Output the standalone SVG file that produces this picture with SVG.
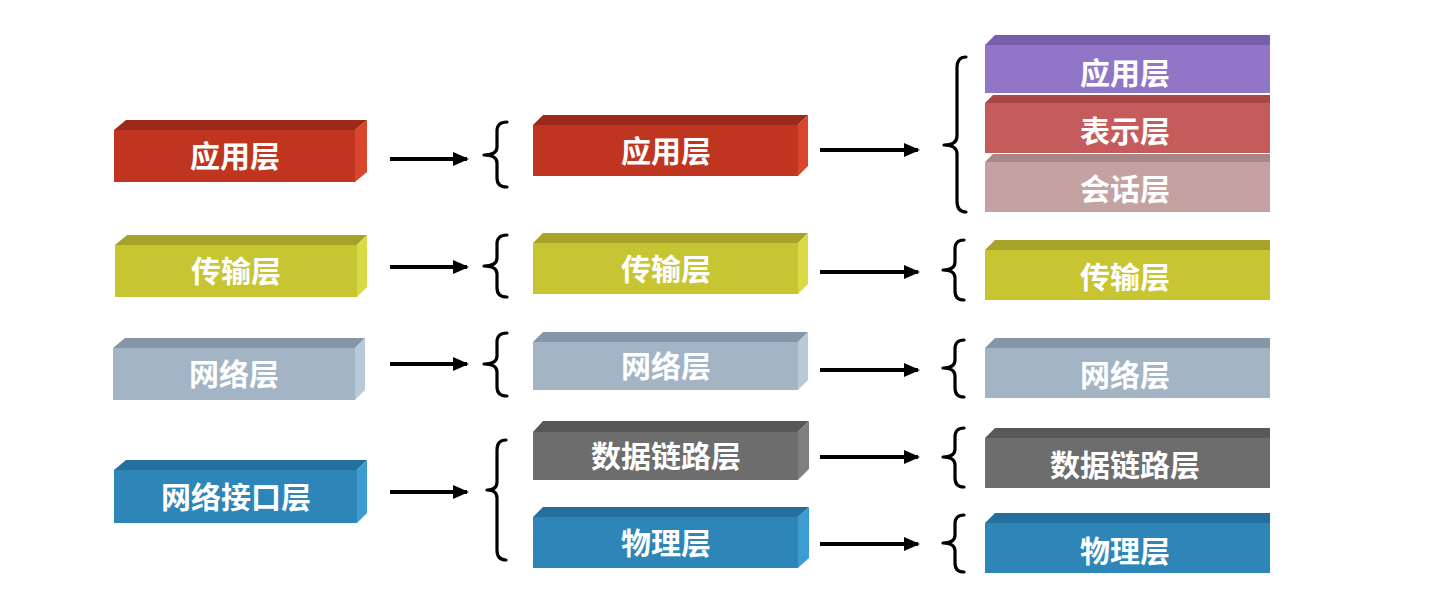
<svg xmlns="http://www.w3.org/2000/svg" width="1444" height="612" viewBox="0 0 1444 612">
<style>
.lbl{font-family:"Noto Sans CJK SC","Noto Sans",sans-serif;font-weight:bold;font-size:30px;fill:#ffffff;text-anchor:middle}
.red .f{fill:#BF3520}.red .t{fill:#9C2A19}.red .s{fill:#D9462B}
.yel .f{fill:#C8C532}.yel .t{fill:#A6A22A}.yel .s{fill:#DCD946}
.gb .f{fill:#A3B5C5}.gb .t{fill:#8496A7}.gb .s{fill:#B8C9D7}
.blu .f{fill:#2E86B8}.blu .t{fill:#256F9E}.blu .s{fill:#3D9CD1}
.dg .f{fill:#6D6D6D}.dg .t{fill:#585858}.dg .s{fill:#808080}
.pur .f{fill:#9176C8}.pur .t{fill:#775DAE}
.ros .f{fill:#C65B5B}.ros .t{fill:#A84646}
.pnk .f{fill:#C4A2A2}.pnk .t{fill:#A88787}
.brace{fill:none;stroke:#000;stroke-width:3.2;stroke-linecap:round;stroke-linejoin:round}
.arr{stroke:#000;stroke-width:4;marker-end:url(#ah)}
</style>
<defs>
<marker id="ah" markerWidth="16" markerHeight="14" refX="14" refY="7" orient="auto" markerUnits="userSpaceOnUse">
<path d="M0,0 L16,7 L0,14 Z" fill="#000"/>
</marker>
<clipPath id="cl"><rect x="0" y="0" width="1270" height="612"/></clipPath>
</defs>
<rect width="1444" height="612" fill="#ffffff"/>

<!-- Column 1 -->
<g id="c1-app" class="red">
<polygon class="t" points="114,130 126,120 367,120 355,130"/>
<polygon class="s" points="355,130 367,120 367,172 355,182"/>
<rect class="f" x="114" y="130" width="241" height="52"/>
<text class="lbl" x="235" y="167">应用层</text>
</g>
<g id="c1-trans" class="yel">
<polygon class="t" points="115,245 127,235 367,235 357,245"/>
<polygon class="s" points="357,245 367,235 367,287 357,297"/>
<rect class="f" x="115" y="245" width="242" height="52"/>
<text class="lbl" x="236" y="282">传输层</text>
</g>
<g id="c1-net" class="gb">
<polygon class="t" points="113,348 125,338 365,338 355,348"/>
<polygon class="s" points="355,348 365,338 365,390 355,400"/>
<rect class="f" x="113" y="348" width="242" height="52"/>
<text class="lbl" x="234" y="385">网络层</text>
</g>
<g id="c1-if" class="blu">
<polygon class="t" points="114,470 126,460 367,460 357,470"/>
<polygon class="s" points="357,470 367,460 367,513 357,523"/>
<rect class="f" x="114" y="470" width="243" height="53"/>
<text class="lbl" x="236" y="508">网络接口层</text>
</g>

<!-- Column 2 -->
<g id="c2-app" class="red">
<polygon class="t" points="533,125 543,115 808,115 798,125"/>
<polygon class="s" points="798,125 808,115 808,166 798,176"/>
<rect class="f" x="533" y="125" width="265" height="51"/>
<text class="lbl" x="666" y="162">应用层</text>
</g>
<g id="c2-trans" class="yel">
<polygon class="t" points="533,243 543,233 808,233 798,243"/>
<polygon class="s" points="798,243 808,233 808,284 798,294"/>
<rect class="f" x="533" y="243" width="265" height="51"/>
<text class="lbl" x="666" y="280">传输层</text>
</g>
<g id="c2-net" class="gb">
<polygon class="t" points="533,342 543,332 808,332 798,342"/>
<polygon class="s" points="798,342 808,332 808,380 798,390"/>
<rect class="f" x="533" y="342" width="265" height="48"/>
<text class="lbl" x="666" y="377">网络层</text>
</g>
<g id="c2-dl" class="dg">
<polygon class="t" points="533,432 543,421 809,421 798,432"/>
<polygon class="s" points="798,432 809,421 809,469 798,480"/>
<rect class="f" x="533" y="432" width="265" height="48"/>
<text class="lbl" x="666" y="467">数据链路层</text>
</g>
<g id="c2-phy" class="blu">
<polygon class="t" points="533,517 543,507 809,507 798,517"/>
<polygon class="s" points="798,517 809,507 809,558 798,568"/>
<rect class="f" x="533" y="517" width="265" height="51"/>
<text class="lbl" x="666" y="554">物理层</text>
</g>

<!-- Column 3 -->
<g clip-path="url(#cl)">
<g id="c3-app" class="pur">
<polygon class="t" points="985,45 995,35 1280,35 1280,45"/>
<rect class="f" x="985" y="45" width="295" height="48"/>
<text class="lbl" x="1125" y="84">应用层</text>
</g>
<g id="c3-pres" class="ros">
<polygon class="t" points="985,103 993,95 1280,95 1280,103"/>
<rect class="f" x="985" y="103" width="295" height="50"/>
<text class="lbl" x="1125" y="142">表示层</text>
</g>
<g id="c3-sess" class="pnk">
<polygon class="t" points="985,162 993,154 1280,154 1280,162"/>
<rect class="f" x="985" y="162" width="295" height="50"/>
<text class="lbl" x="1125" y="200">会话层</text>
</g>
<g id="c3-trans" class="yel">
<polygon class="t" points="985,250 995,240 1280,240 1280,250"/>
<rect class="f" x="985" y="250" width="295" height="50"/>
<text class="lbl" x="1125" y="288">传输层</text>
</g>
<g id="c3-net" class="gb">
<polygon class="t" points="985,348 995,338 1280,338 1280,348"/>
<rect class="f" x="985" y="348" width="295" height="50"/>
<text class="lbl" x="1125" y="386">网络层</text>
</g>
<g id="c3-dl" class="dg">
<polygon class="t" points="985,438 995,428 1280,428 1280,438"/>
<rect class="f" x="985" y="438" width="295" height="50"/>
<text class="lbl" x="1125" y="476">数据链路层</text>
</g>
<g id="c3-phy" class="blu">
<polygon class="t" points="985,523 995,513 1280,513 1280,523"/>
<rect class="f" x="985" y="523" width="295" height="50"/>
<text class="lbl" x="1125" y="562">物理层</text>
</g>
</g>

<!-- Connectors -->
<g id="connectors">
<line class="arr" x1="390" y1="159" x2="467" y2="159"/>
<line class="arr" x1="390" y1="267" x2="467" y2="267"/>
<line class="arr" x1="390" y1="364" x2="467" y2="364"/>
<line class="arr" x1="390" y1="492" x2="467" y2="492"/>
<line class="arr" x1="820" y1="150" x2="918" y2="150"/>
<line class="arr" x1="820" y1="272" x2="918" y2="272"/>
<line class="arr" x1="820" y1="370" x2="918" y2="370"/>
<line class="arr" x1="820" y1="457" x2="918" y2="457"/>
<line class="arr" x1="820" y1="544" x2="918" y2="544"/>

<path class="brace" d="M507,122 Q497,122 497,131 L497,147 Q497,155 484,155 Q497,155 497,163 L497,178 Q497,187 507,187"/>
<path class="brace" d="M507,235 Q497,235 497,244 L497,258 Q497,266 484,266 Q497,266 497,274 L497,288 Q497,297 507,297"/>
<path class="brace" d="M507,333 Q497,333 497,342 L497,356 Q497,364 484,364 Q497,364 497,372 L497,387 Q497,396 507,396"/>
<path class="brace" d="M506,440 Q497,440 497,450 L497,482 Q497,490 487,490 Q497,490 497,498 L497,550 Q497,560 506,560"/>

<path class="brace" d="M966,57 Q957,57 957,68 L957,136 Q957,145 944,145 Q957,145 957,154 L957,201 Q957,212 966,212"/>
<path class="brace" d="M964,240 Q955,240 955,249 L955,262 Q955,270 943,270 Q955,270 955,278 L955,291 Q955,300 964,300"/>
<path class="brace" d="M964,340 Q955,340 955,349 L955,360 Q955,368 943,368 Q955,368 955,376 L955,388 Q955,397 964,397"/>
<path class="brace" d="M964,428 Q955,428 955,437 L955,449 Q955,457 943,457 Q955,457 955,465 L955,478 Q955,487 964,487"/>
<path class="brace" d="M964,515 Q955,515 955,524 L955,535 Q955,543 943,543 Q955,543 955,551 L955,563 Q955,572 964,572"/>
</g>
</svg>
